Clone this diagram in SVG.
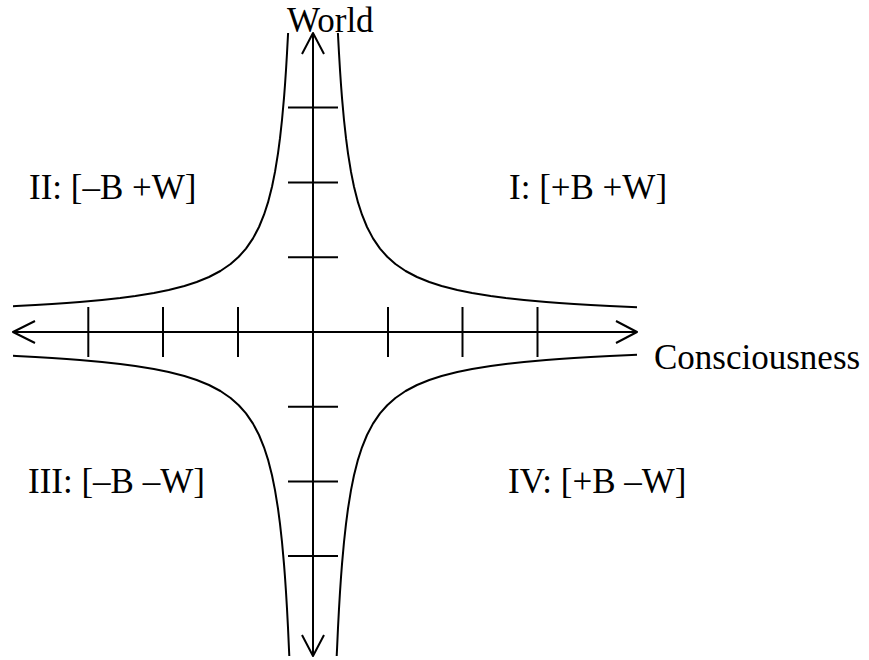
<svg xmlns="http://www.w3.org/2000/svg" width="869" height="660" viewBox="0 0 869 660">
<style>
.ln{fill:none;stroke:#000;stroke-width:2;stroke-linejoin:round;stroke-linecap:butt}
.t{font-family:"Liberation Serif","Times New Roman",serif;font-size:35px;fill:#000}
</style>
<rect width="869" height="660" fill="#fff"/>
<g id="curves">
<polyline id="curve-I" class="ln" points="337.9,33 339,53.3 340,70 341,84.7 342,97.8 344,120 346,138.2 348,153.3 351,171.9 354,186.7 358,202.4 362,214.7 367,227 373,238.4 380,248.6 387.25,256.75 395.4,264 405.6,271 417,277 429.3,282 441.6,286 457.3,290 472.1,293 490.7,296 505.8,298 524,300 546.2,302 559.3,303 574,304 590.7,305 609.7,306 631.7,307 637,307.2"/>
<polyline id="curve-II" class="ln" points="288.1,33 287,53.3 286,70 285,84.7 284,97.8 282,120 280,138.2 278,153.3 275,171.9 272,186.7 268,202.4 264,214.7 259,227 253,238.4 246,248.6 238.75,256.75 230.6,264 220.4,271 209,277 196.7,282 184.4,286 168.7,290 153.9,293 135.3,296 120.2,298 102,300 79.8,302 66.7,303 52,304 35.3,305 16.3,306 13,306.2"/>
<polyline id="curve-III" class="ln" points="289.3,656 289,649.7 288,627.7 287,608.7 286,592 285,577.3 284,564.2 282,542 280,523.8 278,508.7 275,490.1 272,475.3 268,459.6 264,447.3 259,435 253,423.6 246,413.4 238.75,405.25 230.6,398 220.4,391 209,385 196.7,380 184.4,376 168.7,372 153.9,369 135.3,366 120.2,364 102,362 79.8,360 66.7,359 52,358 35.3,357 16.3,356 13,355.8"/>
<polyline id="curve-IV" class="ln" points="336.7,656 337,649.7 338,627.7 339,608.7 340,592 341,577.3 342,564.2 344,542 346,523.8 348,508.7 351,490.1 354,475.3 358,459.6 362,447.3 367,435 373,423.6 380,413.4 387.25,405.25 395.4,398 405.6,391 417,385 429.3,380 441.6,376 457.3,372 472.1,369 490.7,366 505.8,364 524,362 546.2,360 559.3,359 574,358 590.7,357 609.7,356 631.7,355 637,354.8"/>
</g>
<g id="connectors">
<line id="axis-world" class="ln" x1="313" y1="33" x2="313" y2="656"/>
<line id="axis-consciousness" class="ln" x1="13" y1="332" x2="637" y2="332"/>
<polyline class="ln" points="302,54 313,33 324,54"/>
<polyline class="ln" points="302,635 313,656 324,635"/>
<polyline class="ln" points="35,321 13,332 35,343"/>
<polyline class="ln" points="616,321 637,332 616,343"/>
</g>
<g id="ticks">
<line class="ln" x1="288" y1="107.5" x2="338" y2="107.5"/>
<line class="ln" x1="288" y1="182.5" x2="338" y2="182.5"/>
<line class="ln" x1="288" y1="257.3" x2="338" y2="257.3"/>
<line class="ln" x1="288" y1="406.7" x2="338" y2="406.7"/>
<line class="ln" x1="288" y1="481.4" x2="338" y2="481.4"/>
<line class="ln" x1="288" y1="556" x2="338" y2="556"/>
<line class="ln" x1="88.3" y1="307" x2="88.3" y2="357"/>
<line class="ln" x1="163" y1="307" x2="163" y2="357"/>
<line class="ln" x1="238" y1="307" x2="238" y2="357"/>
<line class="ln" x1="388" y1="307" x2="388" y2="357"/>
<line class="ln" x1="462.5" y1="307" x2="462.5" y2="357"/>
<line class="ln" x1="537.5" y1="307" x2="537.5" y2="357"/>
</g>
<g id="label-world"><text class="t" x="287" y="32">World</text></g>
<g id="label-consciousness"><text class="t" x="654" y="369">Consciousness</text></g>
<g id="quadrant-I"><text class="t" x="509" y="199">I: [+B +W]</text></g>
<g id="quadrant-II"><text class="t" x="29" y="199">II: [–B +W]</text></g>
<g id="quadrant-III"><text class="t" x="28" y="493">III: [–B –W]</text></g>
<g id="quadrant-IV"><text class="t" x="508" y="493">IV: [+B –W]</text></g>
</svg>
